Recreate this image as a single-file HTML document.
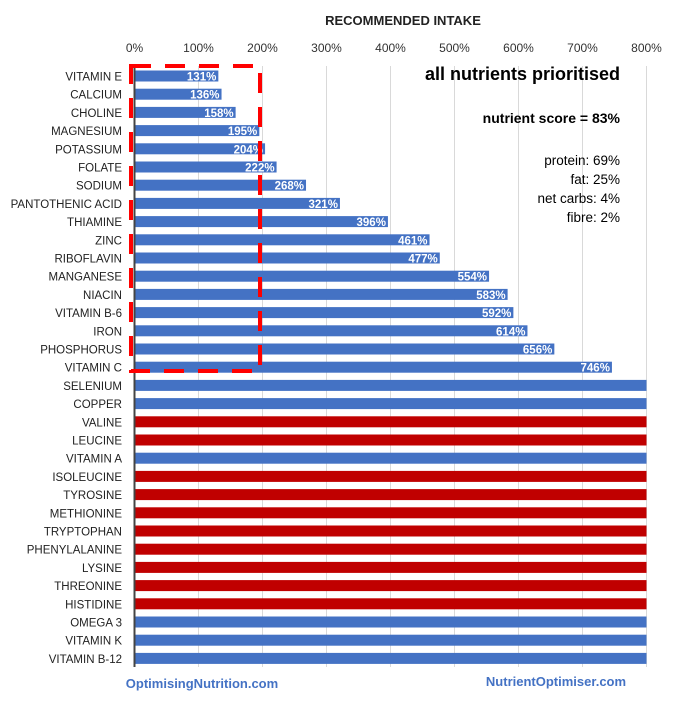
<!DOCTYPE html>
<html><head><meta charset="utf-8"><style>
body{margin:0;background:#fff;font-family:"Liberation Sans",Arial,sans-serif}
svg text{font-family:"Liberation Sans",Arial,sans-serif}
</style></head><body>
<svg id="c" width="674" height="700">
<text x="403" y="25" font-size="13" font-weight="bold" fill="#222" text-anchor="middle">RECOMMENDED INTAKE</text>
<g id="grid"></g><g id="bars"></g><g id="labels"></g>
<line x1="134.5" y1="66" x2="134.5" y2="667" stroke="#444" stroke-width="2"/>
<rect x="131" y="66" width="129" height="305" fill="none" stroke="#f00" stroke-width="4" stroke-dasharray="20,14"/>
<text x="620" y="80" font-size="18" font-weight="bold" text-anchor="end">all nutrients prioritised</text>
<text x="620" y="123" font-size="14" font-weight="bold" text-anchor="end">nutrient score = 83%</text>
<text x="620" y="165" font-size="13.5" text-anchor="end">protein: 69%</text>
<text x="620" y="184" font-size="13.5" text-anchor="end">fat: 25%</text>
<text x="620" y="203" font-size="13.5" text-anchor="end">net carbs: 4%</text>
<text x="620" y="222" font-size="13.5" text-anchor="end">fibre: 2%</text>
<text x="202" y="688" font-size="13" font-weight="bold" fill="#4472C4" text-anchor="middle">OptimisingNutrition.com</text>
<text x="556" y="686" font-size="13" font-weight="bold" fill="#4472C4" text-anchor="middle">NutrientOptimiser.com</text>
</svg>
<script>
const categories=["VITAMIN E","CALCIUM","CHOLINE","MAGNESIUM","POTASSIUM","FOLATE","SODIUM","PANTOTHENIC ACID","THIAMINE","ZINC","RIBOFLAVIN","MANGANESE","NIACIN","VITAMIN B-6","IRON","PHOSPHORUS","VITAMIN C","SELENIUM","COPPER","VALINE","LEUCINE","VITAMIN A","ISOLEUCINE","TYROSINE","METHIONINE","TRYPTOPHAN","PHENYLALANINE","LYSINE","THREONINE","HISTIDINE","OMEGA 3","VITAMIN K","VITAMIN B-12"];
const values=[131,136,158,195,204,222,268,321,396,461,477,554,583,592,614,656,746,800,800,800,800,800,800,800,800,800,800,800,800,800,800,800,800];
const seriesGroup=["b","b","b","b","b","b","b","b","b","b","b","b","b","b","b","b","b","b","b","r","r","b","r","r","r","r","r","r","r","r","b","b","b"];
const showLabel=[1,1,1,1,1,1,1,1,1,1,1,1,1,1,1,1,1,0,0,0,0,0,0,0,0,0,0,0,0,0,0,0,0];
const ticks=[0,100,200,300,400,500,600,700,800];
const NS="http://www.w3.org/2000/svg";
const x=v=>134.5+Math.min(v,800)*0.64;
const y=i=>76+i*18.2;
function mk(t,a,p){const e=document.createElementNS(NS,t);for(const k in a)e.setAttribute(k,a[k]);p.appendChild(e);return e;}
const G=document.getElementById('grid'),B=document.getElementById('bars'),L=document.getElementById('labels');
ticks.forEach(t=>{
 const l=mk('line',{x1:x(t),x2:x(t),y1:66,y2:667,stroke:'#d9d9d9','stroke-width':1},G);
 
 
 const tx=mk('text',{x:x(t),y:52,'font-size':12,fill:'#333','text-anchor':'middle'},G);
 tx.textContent=t+'%';
 
 
});
categories.forEach((c,i)=>{
 const r=mk('rect',{x:134.5,y:y(i)-5.5,width:x(values[i])-134.5,height:11,fill:seriesGroup[i]=='r'?'#C00000':'#4472C4'},B);
 
 
 const t=mk('text',{x:122,y:y(i)+4.5,'font-size':11.5,fill:'#222','text-anchor':'end'},L);
 t.textContent=c;
 
 
 if(showLabel[i]){
  const v=mk('text',{x:x(values[i])-2,y:y(i)+4.5,'font-size':11.5,'font-weight':'bold',fill:'#fff','text-anchor':'end'},L);
  v.textContent=values[i]+'%';
  
  
 }
});
</script>
</body></html>
